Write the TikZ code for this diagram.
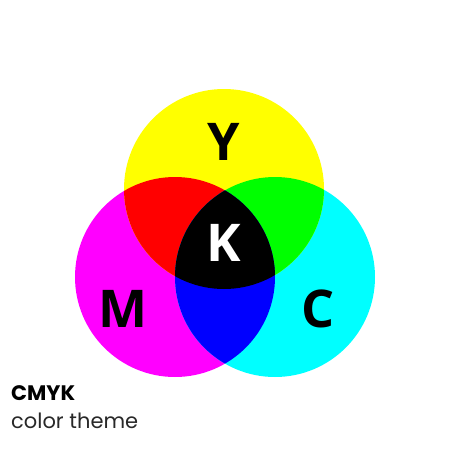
\documentclass[tikz,border=0pt]{standalone}
\usepackage{fontspec}
\setmainfont{Open Sans}
\newfontfamily\capfont{Poppins}
\begin{document}
\begin{tikzpicture}[x=1pt,y=-1pt,
  letter/.style={font=\fontsize{52}{52}\selectfont\bfseries, inner sep=0pt, anchor=base}]
\useasboundingbox[fill=white] (0,0) rectangle (450,450);
\def\R{100}
\coordinate (Yc) at (224,189);
\coordinate (Mc) at (175,277);
\coordinate (Cc) at (275,277);
\fill[fill={rgb,255:red,255;green,0;blue,255}] (Mc) circle (\R);
\fill[fill={rgb,255:red,0;green,255;blue,255}] (Cc) circle (\R);
\fill[fill={rgb,255:red,255;green,255;blue,0}] (Yc) circle (\R);
\begin{scope}
  \clip (Yc) circle (\R);
  \fill[fill={rgb,255:red,255;green,0;blue,0}] (Mc) circle (\R);
  \fill[fill={rgb,255:red,0;green,255;blue,0}] (Cc) circle (\R);
\end{scope}
\begin{scope}
  \clip (Mc) circle (\R);
  \fill[fill={rgb,255:red,0;green,0;blue,255}] (Cc) circle (\R);
  \clip (Cc) circle (\R);
  \fill[black] (Yc) circle (\R);
\end{scope}
\node[letter] (y) at (224,160) {Y};
\node[letter, text=white] (k) at (224,261) {K};
\node[letter] (m) at (123,327) {M};
\node[letter] (c) at (318,327) {C};
\node[font=\capfont\fontsize{21}{21}\selectfont\bfseries, anchor=base west, inner sep=0pt] (t1) at (11,400) {CMYK};
\node[font=\capfont\fontsize{21}{21}\selectfont, anchor=base west, inner sep=0pt, text={rgb,255:red,40;green,40;blue,40}] (t2) at (11,428) {color theme};
\end{tikzpicture}
\end{document}
